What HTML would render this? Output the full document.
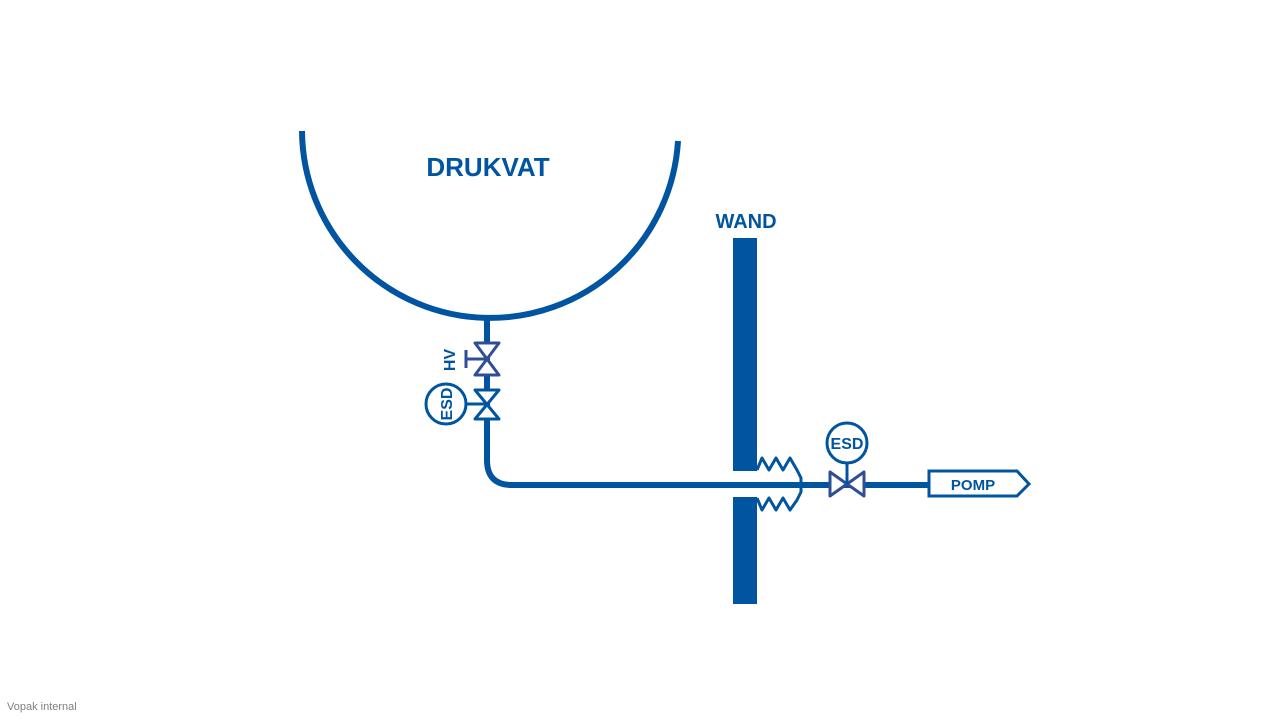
<!DOCTYPE html>
<html><head><style>
body{margin:0;width:1280px;height:720px;background:#fff;overflow:hidden;font-family:"Liberation Sans",sans-serif}
</style></head><body>
<svg width="1280" height="720" xmlns="http://www.w3.org/2000/svg">
<path d="M302,131 A188.17,188.17 0 0 0 678,141" fill="none" stroke="#0054a0" stroke-width="6"/>
<text x="488" y="176" font-size="26" font-weight="bold" fill="#0054a0" text-anchor="middle">DRUKVAT</text>
<text x="746" y="228" font-size="20" font-weight="bold" fill="#0054a0" text-anchor="middle">WAND</text>
<rect x="733" y="238" width="24" height="233" fill="#0054a0"/>
<rect x="733" y="497" width="24" height="107" fill="#0054a0"/>
<path d="M487,316 V460 Q487,485 512,485 H928" fill="none" stroke="#0054a0" stroke-width="6"/>
<path d="M475,343 H499 L475,375 H499 Z" fill="#fff" stroke="#2f4e96" stroke-width="3" stroke-linejoin="round"/>
<path d="M466,359 H487 M466,350 V368" stroke="#2f4e96" stroke-width="3"/>
<text transform="translate(455,360) rotate(-90)" font-size="16" font-weight="bold" fill="#0054a0" text-anchor="middle">HV</text>
<path d="M475,390 H499 L475,419 H499 Z" fill="#fff" stroke="#0054a0" stroke-width="3" stroke-linejoin="round"/>
<path d="M466,404 H487" stroke="#0054a0" stroke-width="3"/>
<circle cx="446" cy="404" r="20" fill="#fff" stroke="#0054a0" stroke-width="3"/>
<text transform="translate(452,404) rotate(-90)" font-size="16" font-weight="bold" fill="#0054a0" text-anchor="middle">ESD</text>
<path d="M757,470 L762,458 L769,470 L776,458 L783,470 L790,458 L797,470 L801,478 V492 L797,500 L790,510 L783,498 L776,510 L769,498 L762,510 L757,498" fill="none" stroke="#0054a0" stroke-width="3" stroke-linejoin="round"/>
<path d="M830,472 V496 L864,472 V496 Z" fill="#fff" stroke="#2f4e96" stroke-width="3" stroke-linejoin="round"/>
<path d="M847,463 V484" stroke="#0054a0" stroke-width="3"/>
<circle cx="847" cy="443" r="20" fill="#fff" stroke="#0054a0" stroke-width="3"/>
<text x="847" y="449" font-size="16" font-weight="bold" fill="#0054a0" text-anchor="middle">ESD</text>
<path d="M929,471 H1017 L1029,484 L1017,496 H929 Z" fill="#fff" stroke="#0054a0" stroke-width="3"/>
<text x="973" y="490" font-size="15" font-weight="bold" fill="#0054a0" text-anchor="middle">POMP</text>
<text x="7" y="710" font-size="11" fill="#808080">Vopak internal</text>
</svg>
</body></html>
